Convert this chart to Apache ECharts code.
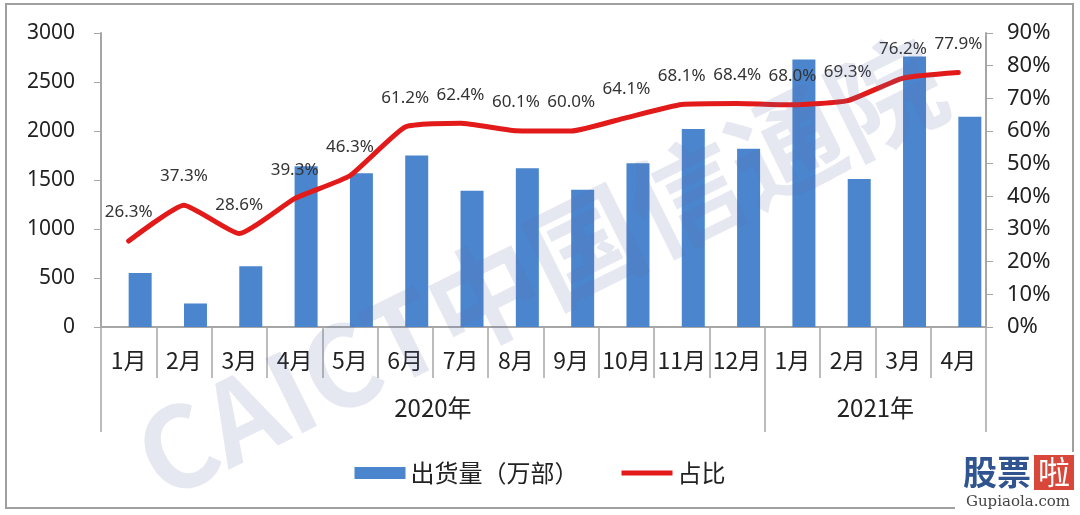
<!DOCTYPE html>
<html>
<head>
<meta charset="utf-8">
<script src="https://cdn.jsdelivr.net/npm/echarts@6/dist/echarts.min.js"></script>
<style>
  html, body { margin: 0; padding: 0; background: #fff; }
  #chart { width: 1080px; height: 515px; }
</style>
</head>
<body>
<div id="chart"></div>
<script>
const months = ['1月', '2月', '3月', '4月', '5月', '6月', '7月', '8月', '9月', '10月', '11月', '12月', '1月', '2月', '3月', '4月']
const years = ['2020年', '2021年']
const yearSpans = [12, 4]
const shipments = [550, 240, 620, 1640, 1570, 1750, 1390, 1620, 1400, 1670, 2020, 1820, 2730, 1510, 2760, 2145]
const share = [26.3, 37.3, 28.6, 39.3, 46.3, 61.2, 62.4, 60.1, 60.0, 64.1, 68.1, 68.4, 68.0, 69.3, 76.2, 77.9]

const font = '"Noto Sans", "Noto Sans CJK SC", sans-serif'
const cjk = '"Noto Sans CJK SC", "Noto Sans", sans-serif'
const axisGray = '#a6a6a6'

// year group boundaries and label centres on a 0..16 scale
const yearBounds = [0]
const yearMids = []
yearSpans.forEach((span, i) => {
  const start = yearBounds[i]
  yearBounds.push(start + span)
  yearMids.push(start + span / 2)
})

const chart = echarts.init(document.getElementById('chart'))

chart.setOption({
  animation: false,
  textStyle: { fontFamily: font },
  grid: { left: 101, right: 94, top: 33, bottom: 188 },
  legend: {
    data: [
      { name: '出货量（万部）', icon: 'rect' },
      { name: '占比', icon: 'path://M0 0H100V10H0Z' }
    ],
    left: 'center',
    top: 456,
    itemWidth: 51,
    itemHeight: 12,
    itemGap: 43,
    textStyle: { fontFamily: cjk, fontSize: 24, color: '#222' }
  },
  xAxis: [
    {
      type: 'category',
      data: months,
      position: 'bottom',
      axisLine: { lineStyle: { color: axisGray, width: 2 } },
      axisTick: { show: true, length: 51, interval: 0, lineStyle: { color: axisGray, width: 1.5 } },
      axisLabel: { interval: 0, margin: 22, fontFamily: cjk, fontSize: 23, color: '#222' }
    },
    {
      type: 'value',
      min: 0,
      max: months.length,
      position: 'bottom',
      axisLine: { show: false },
      splitLine: { show: false },
      axisTick: {
        show: true,
        length: 105,
        customValues: yearBounds,
        lineStyle: { color: axisGray, width: 1.5 }
      },
      axisLabel: {
        margin: 69,
        customValues: yearMids,
        formatter: (v) => years[yearMids.indexOf(v)] || '',
        fontFamily: cjk,
        fontSize: 24,
        color: '#222'
      }
    }
  ],
  yAxis: [
    {
      type: 'value',
      min: 0,
      max: 3000,
      interval: 500,
      axisLine: { show: true, lineStyle: { color: axisGray, width: 2 } },
      axisTick: { show: true, length: 7, lineStyle: { color: axisGray } },
      splitLine: { show: false },
      axisLabel: { margin: 26, fontSize: 21, color: '#222', formatter: (v) => String(v) }
    },
    {
      type: 'value',
      min: 0,
      max: 90,
      interval: 10,
      position: 'right',
      axisLine: { show: true, lineStyle: { color: axisGray, width: 2 } },
      axisTick: { show: true, length: 7, lineStyle: { color: axisGray } },
      splitLine: { show: false },
      axisLabel: { margin: 21, fontSize: 22, color: '#222', formatter: (v) => v + '%' }
    }
  ],
  series: [
    {
      // empty slot so the bars sit right of the category centre, as in the source
      name: 'pad',
      type: 'bar',
      data: [],
      barWidth: 23,
      barGap: '0%'
    },
    {
      name: '出货量（万部）',
      type: 'bar',
      data: shipments,
      barWidth: 23,
      barGap: '0%',
      itemStyle: { color: '#4a85cd' }
    },
    {
      name: '占比',
      type: 'line',
      yAxisIndex: 1,
      data: share,
      smooth: 0.15,
      symbol: 'circle',
      symbolSize: 2,
      showSymbol: true,
      z: 5,
      lineStyle: { color: '#e21a1a', width: 5, cap: 'round', join: 'round' },
      itemStyle: { color: '#e21a1a' },
      label: {
        show: true,
        position: 'top',
        distance: 19,
        fontSize: 17,
        color: '#333',
        formatter: (p) => p.value.toFixed(1) + '%'
      }
    }
  ],
  graphic: [
    {
      type: 'rect',
      silent: true,
      shape: { x: 6, y: 4, width: 1067, height: 504 },
      style: { fill: 'none', stroke: '#a0a0a0', lineWidth: 2 },
      z: 0
    },
    {
      type: 'text',
      silent: true,
      x: 540,
      y: 268,
      rotation: 0.46,
      z: 100,
      style: {
        text: 'CAICT中国信通院',
        fontFamily: cjk,
        fontSize: 112,
        fontWeight: 'bold',
        fill: 'rgba(100, 115, 165, 0.16)',
        align: 'center',
        verticalAlign: 'middle'
      }
    },
    {
      type: 'group',
      silent: true,
      z: 110,
      children: [
        { type: 'rect', shape: { x: 955, y: 452, width: 125, height: 63 }, style: { fill: '#fff' } },
        {
          type: 'text', x: 963, y: 472,
          style: { text: '股票', fontFamily: cjk, fontSize: 34, fontWeight: 'bold', fill: '#2f5490', verticalAlign: 'middle' }
        },
        { type: 'rect', shape: { x: 1034, y: 455, width: 40, height: 35 }, style: { fill: '#d9473b' } },
        {
          type: 'text', x: 1054, y: 472,
          style: { text: '啦', fontFamily: cjk, fontSize: 32, fill: '#fff', align: 'center', verticalAlign: 'middle' }
        },
        {
          type: 'text', x: 1018, y: 502,
          style: { text: 'Gupiaola.com', fontFamily: '"DejaVu Serif", serif', fontSize: 15, fill: '#444', align: 'center', verticalAlign: 'middle' }
        }
      ]
    }
  ]
})
</script>
</body>
</html>
